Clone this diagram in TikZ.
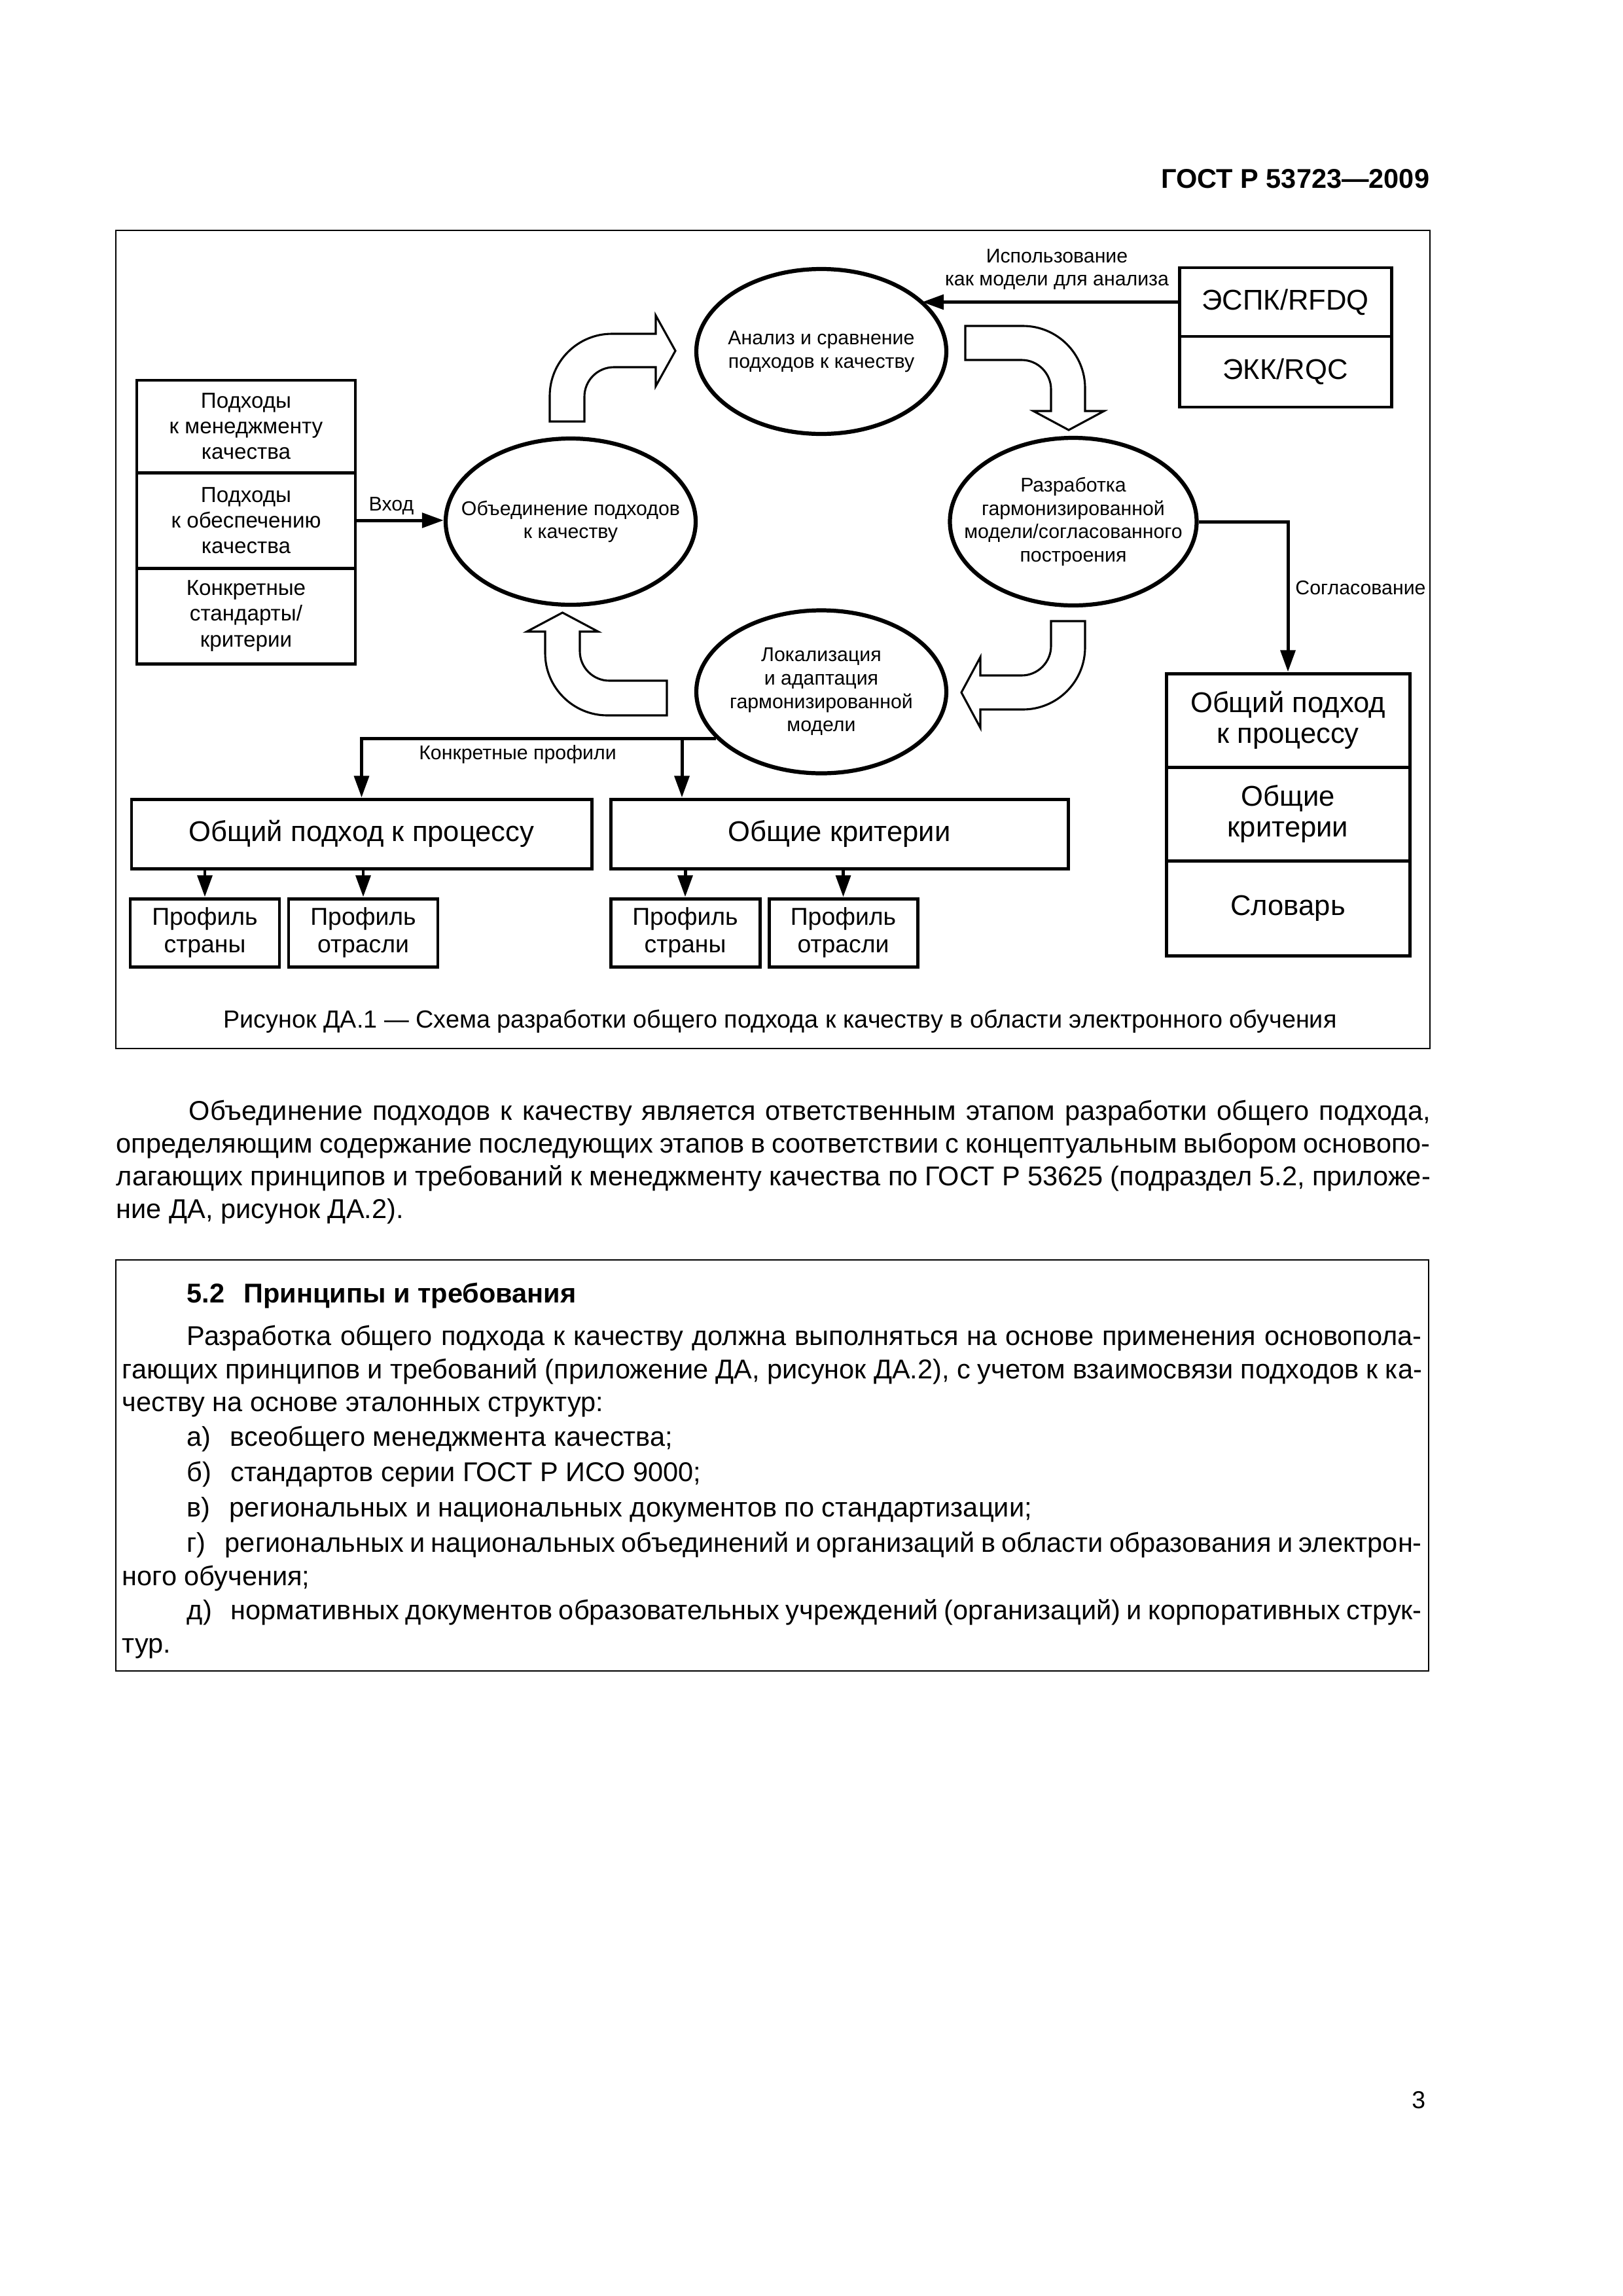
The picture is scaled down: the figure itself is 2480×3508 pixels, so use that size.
\documentclass[tikz,border=0pt]{standalone}
\usepackage{fontspec}
\setmainfont{Liberation Sans}
\usetikzlibrary{arrows.meta,shapes.geometric}
\newlength\px
\setlength\px{0.0846774mm}
\newcommand\fsell{\fontsize{7.3}{8.6}\selectfont}
\newcommand\fsleft{\fontsize{8}{9.4}\selectfont}
\newcommand\fsbig{\fontsize{10.5}{11.3}\selectfont}
\newcommand\fsprof{\fontsize{9}{10.1}\selectfont}
\newcommand\fsbody{\fontsize{10}{12.5}\selectfont}
\newcommand\jl[2]{\makebox[#1\px][s]{#2}}
\begin{document}
\begin{tikzpicture}[x=0.0846774mm, y=-0.0846774mm,
  cell/.style={draw, line width=1.2pt, inner sep=0pt, align=center},
  ell/.style={draw, ellipse, line width=1.5pt, inner sep=0pt},
  conn/.style={line width=1.2pt, -{Triangle[length=2.8mm,width=1.9mm]}},
  barrow/.style={draw, line width=0.75pt, line join=miter},
  lbl/.style={font=\fsell, inner sep=0pt, align=center},
  bodyline/.style={anchor=base west, inner sep=0pt, font=\fsbody},
]
\fill[white] (0,0) rectangle (2480,3508);
\useasboundingbox (0,0) rectangle (2480,3508);

% header and page number
\node[anchor=base east, inner sep=0pt, font=\bfseries\fontsize{10}{12}\selectfont] (hdr) at (2185,287) {ГОСТ Р 53723—2009};
\node[anchor=base east, inner sep=0pt, font=\fontsize{9}{11}\selectfont] (pg) at (2179,3221) {3};

% figure frame
\draw[line width=0.5pt] (177,352) rectangle (2185,1602);

% left stacked box
\node[cell, font=\fsleft, minimum width=334\px, minimum height=141\px] (lb1) at (376,651.5) {Подходы\\к менеджменту\\качества};
\node[cell, font=\fsleft, minimum width=334\px, minimum height=146\px] (lb2) at (376,795) {Подходы\\к обеспечению\\качества};
\node[cell, font=\fsleft, minimum width=334\px, minimum height=146\px] (lb3) at (376,941) {Конкретные\\стандарты/\\критерии};

% RFDQ box
\node[cell, font=\fsbig, minimum width=324\px, minimum height=105\px] (es1) at (1964,461.5) {ЭСПК/RFDQ};
\node[cell, font=\fsbig, minimum width=324\px, minimum height=108\px] (es2) at (1964,568) {ЭКК/RQC};

% ellipses (outline) and their texts
\node[ell, minimum width=382\px, minimum height=252\px] (anl) at (1255,537) {};
\node[lbl] (anlt) at (anl.center) {Анализ и сравнение\\подходов к качеству};
\node[ell, minimum width=382\px, minimum height=254\px] (obj) at (872,797) {};
\node[lbl] (objt) at (obj.center) {Объединение подходов\\к качеству};
\node[ell, minimum width=377\px, minimum height=256\px] (raz) at (1640,797) {};
\node[lbl] (razt) at (raz.center) {Разработка\\гармонизированной\\модели/согласованного\\построения};
\node[ell, minimum width=382\px, minimum height=249\px] (lok) at (1255,1057) {};
\node[lbl] (lokt) at (lok.center) {Локализация\\и адаптация\\гармонизированной\\модели};

% right stacked box
\node[cell, font=\fsbig, minimum width=372\px, minimum height=143\px] (rb1) at (1968,1100.5) {Общий подход\\к процессу};
\node[cell, font=\fsbig, minimum width=372\px, minimum height=143\px] (rb2) at (1968,1243.5) {Общие\\критерии};
\node[cell, font=\fsbig, minimum width=372\px, minimum height=145\px] (rb3) at (1968,1387.5) {Словарь};

% wide boxes
\node[cell, font=\fsbig, minimum width=703\px, minimum height=106\px] (proc) at (552.5,1274) {Общий подход к процессу};
\node[cell, font=\fsbig, minimum width=699\px, minimum height=106\px] (crit) at (1282.5,1274) {Общие критерии};

% profile boxes
\node[cell, font=\fsprof, minimum width=228\px, minimum height=104\px] (p1) at (313,1425) {Профиль\\страны};
\node[cell, font=\fsprof, minimum width=228\px, minimum height=104\px] (p2) at (555,1425) {Профиль\\отрасли};
\node[cell, font=\fsprof, minimum width=228\px, minimum height=104\px] (p3) at (1047,1425) {Профиль\\страны};
\node[cell, font=\fsprof, minimum width=227\px, minimum height=104\px] (p4) at (1288.5,1425) {Профиль\\отрасли};

% connectors
\draw[conn] (es1.west) -- (es1.west -| anl.27);
\draw[conn] (lb2.east) -- (lb2.east -| obj.west);
\draw[conn] (raz.east) -| (rb1.north);
\draw[conn] (lok.204) -| (proc.north);
\coordinate (br) at (1042,1127);
\draw[conn] (br) -- (br |- crit.north);
\draw[conn] (p1.north |- proc.south) -- (p1.north);
\draw[conn] (p2.north |- proc.south) -- (p2.north);
\draw[conn] (p3.north |- crit.south) -- (p3.north);
\draw[conn] (p4.north |- crit.south) -- (p4.north);

% connector labels
\node[lbl] (l1) at (1615,411.5) {Использование\\как модели для анализа};
\node[lbl] (l2) at (598,773) {Вход};
\node[lbl] (l3) at (2079,898) {Согласование};
\node[lbl] (l4) at (791,1153) {Конкретные профили};

% hollow curved arrows
\draw[barrow] (840,644) -- (840,605) .. controls (840,552.6) and (882.6,510) .. (935,510) -- (1002,510) -- (1002,482) -- (1032,536) -- (1002,590) -- (1002,561) -- (938,561) .. controls (913.2,561) and (893,581.2) .. (893,606) -- (893,644) -- cycle;
\draw[barrow] (1475,498) -- (1563,498) .. controls (1615.4,498) and (1658,540.6) .. (1658,593) -- (1658,628) -- (1687,628) -- (1633,657) -- (1579,628) -- (1606,628) -- (1606,595) .. controls (1606,570.2) and (1585.8,550) .. (1561,550) -- (1475,550) -- cycle;
\draw[barrow] (1606,949) -- (1658,949) -- (1658,989) .. controls (1658,1041.4) and (1615.4,1084) .. (1563,1084) -- (1498,1084) -- (1498,1112) -- (1469,1058) -- (1498,1004) -- (1498,1032) -- (1561,1032) .. controls (1585.8,1032) and (1606,1011.8) .. (1606,987) -- cycle;
\draw[barrow] (1019,1040) -- (1019,1093) -- (928,1093) .. controls (875.6,1093) and (833,1050.4) .. (833,998) -- (833,965) -- (805,965) -- (859.5,936) -- (914,965) -- (886,965) -- (886,995) .. controls (886,1019.8) and (906.2,1040) .. (931,1040) -- cycle;

% caption
\node[anchor=base, inner sep=0pt, font=\fontsize{9.1}{11}\selectfont] (cap) at (1192,1570) {Рисунок ДА.1 — Схема разработки общего подхода к качеству в области электронного обучения};

% body paragraph
\node[bodyline] (t1) at (288,1711) {\jl{1897}{Объединение подходов к качеству является ответственным этапом разработки общего подхода,}};
\node[bodyline] (t2) at (177,1761) {\jl{2008}{определяющим содержание последующих этапов в соответствии с концептуальным выбором основопо-}};
\node[bodyline] (t3) at (177,1811) {\jl{2008}{лагающих принципов и требований к менеджменту качества по ГОСТ Р 53625 (подраздел 5.2, приложе-}};
\node[bodyline] (t4) at (177,1861) {ние ДА, рисунок ДА.2).};

% section box
\draw[line width=0.5pt] (177,1925) rectangle (2183,2553);
\node[bodyline, font=\bfseries\fsbody] (s0) at (285,1990) {5.2\hspace{7pt}Принципы и требования};
\node[bodyline] (s1) at (285,2055) {\jl{1887}{Разработка общего подхода к качеству должна выполняться на основе применения основопола-}};
\node[bodyline] (s2) at (186,2106) {\jl{1986}{гающих принципов и требований (приложение ДА, рисунок ДА.2), с учетом взаимосвязи подходов к ка-}};
\node[bodyline] (s3) at (186,2156) {честву на основе эталонных структур:};
\node[bodyline] (s4) at (285,2209) {а)\hspace{7pt}всеобщего менеджмента качества;};
\node[bodyline] (s5) at (285,2263) {б)\hspace{7pt}стандартов серии ГОСТ Р ИСО 9000;};
\node[bodyline] (s6) at (285,2317) {в)\hspace{7pt}региональных и национальных документов по стандартизации;};
\node[bodyline] (s7) at (285,2371) {\jl{1887}{г)\hspace{7pt}региональных и национальных объединений и организаций в области образования и электрон-}};
\node[bodyline] (s8) at (186,2422) {ного обучения;};
\node[bodyline] (s9) at (285,2474) {\jl{1887}{д)\hspace{7pt}нормативных документов образовательных учреждений (организаций) и корпоративных струк-}};
\node[bodyline] (s10) at (186,2525) {тур.};
\end{tikzpicture}
\end{document}
